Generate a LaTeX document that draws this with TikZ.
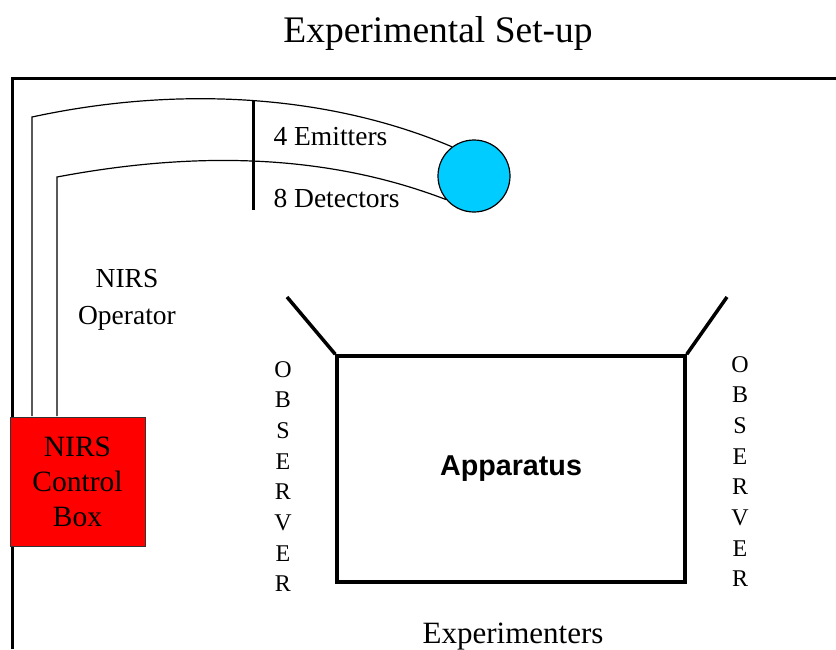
\documentclass[tikz,border=0pt]{standalone}
\usepackage{fontspec}
\setmainfont{Liberation Serif}
\newfontfamily\arialfont{Liberation Sans}
\definecolor{probeblue}{RGB}{0,204,255}
\definecolor{boxred}{RGB}{255,0,0}
\begin{document}
\begin{tikzpicture}[x=1pt,y=-1pt,
	wall/.style={line width=3pt},
	cable/.style={line width=1.2pt},
	txt/.style={font=\fontsize{27.5}{33}\selectfont,anchor=base},
	letter/.style={font=\fontsize{24}{28}\selectfont,anchor=base}]
	\useasboundingbox (0,0) rectangle (836,649);
	\node[anchor=base,font=\fontsize{37.5}{44}\selectfont] (title) at (438,42) {Experimental Set-up};
	\draw[wall] (12,649) -- (12,78) -- (836,78); % walls of the room
	\node[draw=black!80,line width=1pt,fill=boxred,minimum width=135,minimum height=129,inner sep=0,align=center,font=\fontsize{29.5}{35}\selectfont] (ctrl) at (77.5,482) {NIRS\\Control\\Box};
	\node[circle,draw,line width=1.2pt,fill=probeblue,minimum size=72,inner sep=0] (probe) at (474,176) {};
	\coordinate (outerfoot) at (32,416);
	\coordinate (innerfoot) at (57,416);
	\draw[cable] (outerfoot) -- (32,117) .. controls (180,85) and (330,95) .. (probe.127);
	\draw[cable] (innerfoot) -- (57,177) .. controls (200,150) and (330,155) .. (probe.220);
	\coordinate (marktop) at (253,100);	\coordinate (markbot) at (253,210);
	\draw[wall] (marktop) -- (markbot);
	\node[txt,anchor=base west] (emit) at (270,145) {4 Emitters};
	\node[txt,anchor=base west] (det) at (270,207) {8 Detectors};
	\node[txt,anchor=center,align=center,font=\fontsize{27.5}{37}\selectfont] (oper) at (127,300) {NIRS\\Operator};
	\node[draw,line width=3.5pt,minimum width=348,minimum height=226,inner sep=0,font=\arialfont\bfseries\fontsize{28.7}{34}\selectfont] (app) at (511,469) {Apparatus};
	\draw[line width=3.5pt] (app.north west) -- (287,297);
	\draw[line width=3.5pt] (app.north east) -- (727,297);
	\foreach \l [count=\i from 0] in {O,B,S,E,R,V,E,R}{
		\node[letter] (obsl\i) at (283,377+30.7*\i) {\l};
		\node[letter] (obsr\i) at (740,372+30.7*\i) {\l};
	}
	\node[anchor=base,font=\fontsize{31}{36}\selectfont] (exp) at (513,643) {Experimenters};
\end{tikzpicture}
\end{document}
